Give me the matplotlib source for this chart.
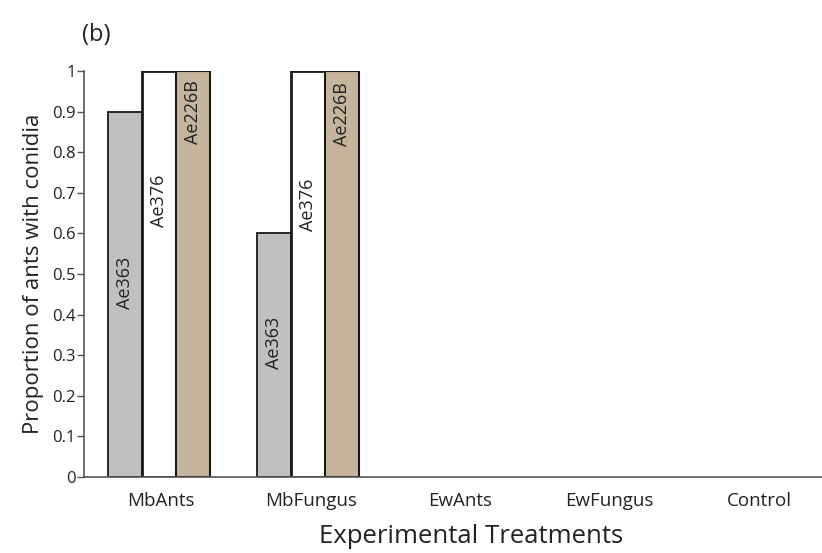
import numpy as np
import matplotlib.pyplot as plt

plt.rcParams['font.family'] = ['Open Sans', 'DejaVu Sans']

treatments = ["MbAnts", "MbFungus", "EwAnts", "EwFungus", "Control"]
strains = ["Ae363", "Ae376", "Ae226B"]
ae363 = [0.9, 0.6, 0, 0, 0]
ae376 = [1.0, 1.0, 0, 0, 0]
ae226b = [1.0, 1.0, 0, 0, 0]
# vertical position of the strain name written inside each bar
label_y = {"Ae363": [0.478, 0.33], "Ae376": [0.68, 0.67], "Ae226B": [0.90, 0.894]}

colors = ["#c0c0c0", "#ffffff", "#c4b59c"]
edge_widths = [1.3, 2.0, 1.5]

fig = plt.figure(figsize=(8.22, 5.53), dpi=100)
ax = fig.add_axes([0.1022, 0.1374, 0.8978, 0.7342])

x = np.arange(len(treatments))
width = 0.227
for i, (name, vals) in enumerate(zip(strains, [ae363, ae376, ae226b])):
    pos = x + (i - 1) * width - 0.015
    for j, v in enumerate(vals):
        if v <= 0:
            continue
        ax.bar(pos[j], v, width, color=colors[i], edgecolor="#1a1a1a",
               linewidth=edge_widths[i], zorder=2)
        ax.text(pos[j], label_y[name][j], name, rotation=90, ha="center",
                va="center", fontsize=13, color="#222222", zorder=3)

ax.set_xlim(-0.515, 4.42)
ax.set_ylim(0, 1)
ax.set_yticks(np.arange(0, 1.01, 0.1))
ax.set_yticklabels(["0", "0.1", "0.2", "0.3", "0.4", "0.5", "0.6", "0.7",
                    "0.8", "0.9", "1"])
ax.set_xticks(x)
ax.set_xticklabels(treatments)
ax.tick_params(axis="x", length=0, labelsize=13.5, pad=11, colors="#222222")
ax.tick_params(axis="y", length=5, width=1, labelsize=12, pad=1,
               colors="#555555", labelcolor="#222222")

for s in ["top", "right"]:
    ax.spines[s].set_visible(False)
for s in ["left", "bottom"]:
    ax.spines[s].set_color("#555555")
    ax.spines[s].set_linewidth(1.2)

ax.set_ylabel("Proportion of ants with conidia", fontsize=16, color="#222222",
              labelpad=6)
ax.set_xlabel("Experimental Treatments", fontsize=18.5, color="#222222")
ax.xaxis.set_label_coords(0.525, -0.115)
fig.text(0.1, 0.925, "(b)", fontsize=17, color="#222222")

fig.savefig("out.png", dpi=100)
